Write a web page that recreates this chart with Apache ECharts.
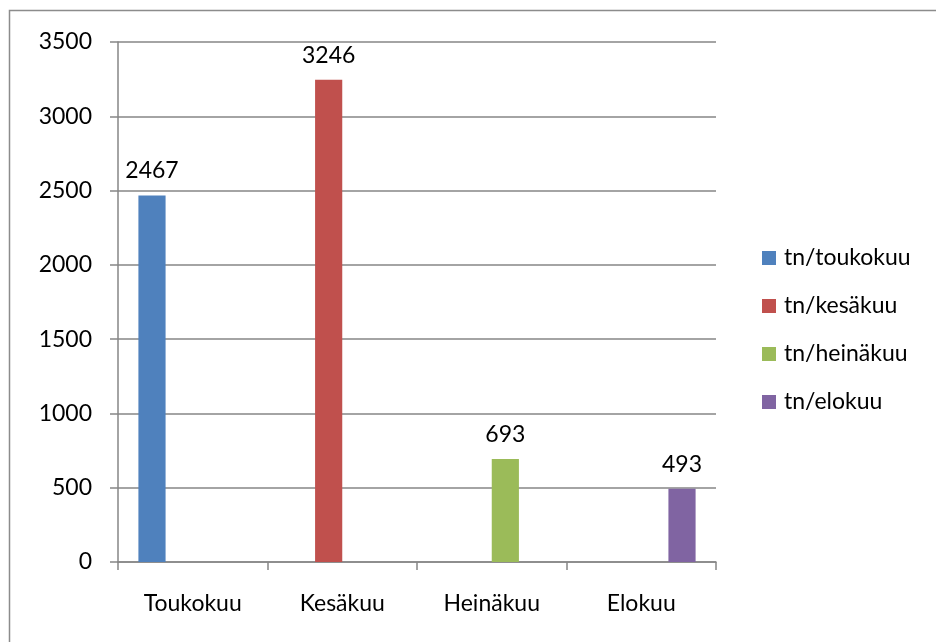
<!DOCTYPE html>
<html>
<head>
<meta charset="utf-8">
<script src="https://cdn.jsdelivr.net/npm/echarts@6/dist/echarts.min.js"></script>
<style>
    html, body {margin: 0; padding: 0; background: #fff;}
    #chart {width: 936px; height: 642px;}
</style>
</head>
<body>
<div id="chart"></div>
<script>
var months = ['Toukokuu', 'Kesäkuu', 'Heinäkuu', 'Elokuu'];
var seriesNames = ['tn/toukokuu', 'tn/kesäkuu', 'tn/heinäkuu', 'tn/elokuu'];
var toukokuu = [2467, null, null, null];
var kesakuu = [null, 3246, null, null];
var heinakuu = [null, null, 693, null];
var elokuu = [null, null, null, 493];
var colors = ['#4F81BD', '#C0504D', '#9BBB59', '#8064A2'];

var values = [toukokuu, kesakuu, heinakuu, elokuu];
var font = 'Lato, "Open Sans", sans-serif';

var series = [];
for (var i = 0; i < values.length; i++) {
    series.push({
        name: seriesNames[i],
        type: 'bar',
        data: values[i],
        barGap: 0,
        barCategoryGap: '27.3%',
        itemStyle: {color: colors[i]},
        label: {
            show: true,
            position: 'top',
            distance: 13,
            color: '#000',
            fontSize: 23,
            fontFamily: font
        }
    });
}

var myChart = echarts.init(document.getElementById('chart'));
myChart.setOption({
    animation: false,
    textStyle: {fontFamily: font},
    graphic: [{
        type: 'rect',
        shape: {x: 9.5, y: 10.5, width: 950, height: 650},
        style: {fill: 'none', stroke: '#8c8c8c', lineWidth: 1.5}
    }],
    grid: {left: 118, top: 42, right: 220, bottom: 80},
    legend: {
        orient: 'vertical',
        left: 757,
        top: 241,
        itemWidth: 14,
        itemHeight: 14,
        itemGap: 24,
        icon: 'rect',
        data: seriesNames,
        textStyle: {fontSize: 23, lineHeight: 24, color: '#000', fontFamily: font, padding: [0, 0, 0, 3]}
    },
    xAxis: {
        type: 'category',
        data: months,
        axisLine: {lineStyle: {color: '#868686', width: 1.5}},
        axisTick: {show: true, length: 8, lineStyle: {color: '#868686', width: 1.5}},
        axisLabel: {fontSize: 23, color: '#000', margin: 30, fontFamily: font}
    },
    yAxis: {
        type: 'value',
        min: 0,
        max: 3500,
        interval: 500,
        axisLine: {show: true, lineStyle: {color: '#868686', width: 1.5}},
        axisTick: {show: true, length: 8, lineStyle: {color: '#868686', width: 1.5}},
        splitLine: {lineStyle: {color: '#868686', width: 1.5}},
        axisLabel: {
            fontSize: 23, color: '#000', margin: 26, fontFamily: font,
            formatter: function (v) { return String(v); }
        }
    },
    series: series
});
</script>
</body>
</html>
